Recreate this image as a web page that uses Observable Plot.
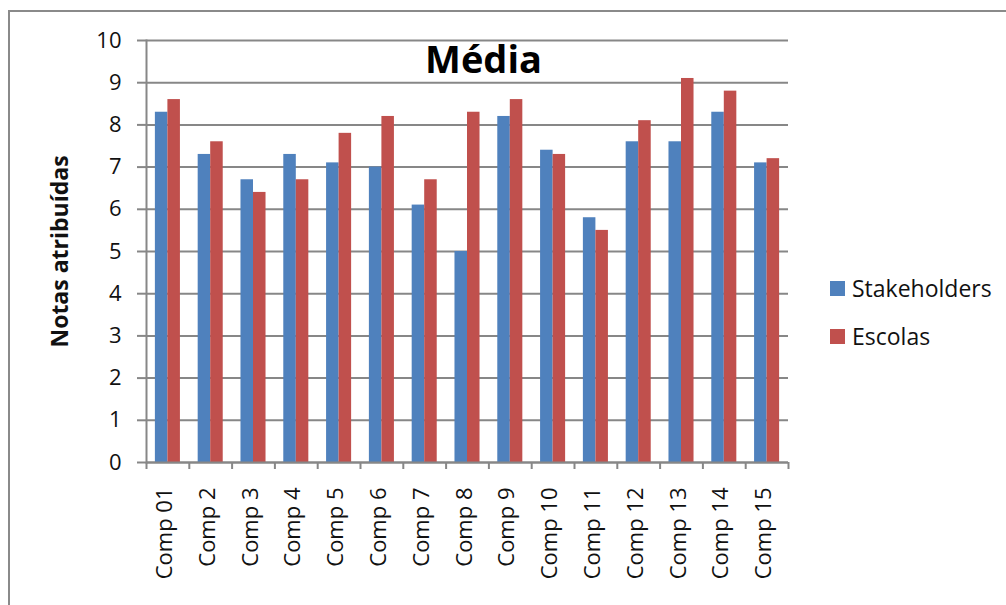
<!DOCTYPE html>
<html>
<head>
<meta charset="utf-8">
<script src="https://cdn.jsdelivr.net/npm/d3@7"></script>
<script src="https://cdn.jsdelivr.net/npm/@observablehq/plot@0.6"></script>
<style>
  body { margin: 0; background: #fff; }
  #wrap { position: relative; width: 1006px; height: 605px; overflow: hidden; font-family: "Open Sans", sans-serif; }
  #border { position: absolute; left: 8px; top: 10px; width: 1100px; height: 700px; border-left: 2px solid #8a8a8a; border-top: 2px solid #8a8a8a; pointer-events: none; }
  #legend { position: absolute; left: 830px; top: 276px; }
  .item { display: flex; align-items: center; height: 24px; margin-bottom: 24px; font-size: 23px; color: #111; }
  .sw { width: 15px; height: 15px; margin-right: 7px; }
</style>
</head>
<body>
<div id="wrap"><div id="chart"></div><div id="border"></div><div id="legend"></div></div>
<script>
const categories = ["Comp 01","Comp 2","Comp 3","Comp 4","Comp 5","Comp 6","Comp 7","Comp 8","Comp 9","Comp 10","Comp 11","Comp 12","Comp 13","Comp 14","Comp 15"];
const series = ["Stakeholders","Escolas"];
const colors = ["#4F81BD","#C0504D"];
const stakeholders = [8.3,7.3,6.7,7.3,7.1,7.0,6.1,5.0,8.2,7.4,5.8,7.6,7.6,8.3,7.1];
const escolas = [8.6,7.6,6.4,6.7,7.8,8.2,6.7,8.3,8.6,7.3,5.5,8.1,9.1,8.8,7.2];
const yTicks = [0,1,2,3,4,5,6,7,8,9,10];
const title = "Média";
const yLabel = "Notas atribuídas";

const W = 1006, H = 605, mL = 146, mR = 218, mT = 40, mB = 143;
const step = (W - mL - mR) / categories.length;
const half = step * 0.585 / 2;

const dataS = categories.map((c, i) => ({cat: c, v: stakeholders[i]}));
const dataE = categories.map((c, i) => ({cat: c, v: escolas[i]}));
const grid = "#878787";

const chart = Plot.plot({
  width: W, height: H,
  marginLeft: mL, marginRight: mR, marginTop: mT, marginBottom: mB,
  style: {fontFamily: "'Open Sans', sans-serif", fontSize: "22px", color: "#111", background: "transparent"},
  x: {domain: categories, paddingInner: 0.415, paddingOuter: 0.2075, round: false, axis: null},
  y: {domain: [0, 10], axis: null},
  marks: [
    Plot.ruleY(yTicks, {y: d => d, stroke: grid, strokeWidth: 2}),
    Plot.barY(dataS, {x: "cat", y: "v", fill: colors[0], insetRight: half}),
    Plot.barY(dataE, {x: "cat", y: "v", fill: colors[1], insetLeft: half}),
    Plot.frame({anchor: "left", stroke: grid, strokeWidth: 2}),
    Plot.ruleY([0], {stroke: grid, strokeWidth: 2}),
    Plot.ruleX(categories, {x: d => d, y1: 0, y2: 0, insetBottom: -7, dx: -step / 2, stroke: grid, strokeWidth: 2}),
    Plot.ruleX(categories.slice(-1), {x: d => d, y1: 0, y2: 0, insetBottom: -7, dx: step / 2, stroke: grid, strokeWidth: 2}),
    Plot.axisY(yTicks, {tickSize: 9, tickPadding: 16, stroke: grid, strokeWidth: 2, fontSize: 22, fill: "#111", label: null}),
    Plot.axisX({tickRotate: -90, tickSize: 0, tickPadding: 25, fontSize: 22, fill: "#111", label: null, dx: -3}),
    Plot.text([yLabel], {frameAnchor: "left", textAnchor: "middle", rotate: -90, dx: -86, fontSize: 23, fontWeight: "bold", fill: "#111"}),
    Plot.text([title], {frameAnchor: "top", dx: 16, dy: 6, fontSize: 38, fontWeight: "bold", fill: "#000"})
  ]
});
document.getElementById("chart").appendChild(chart);

const legend = d3.select("#legend");
series.forEach((s, i) => {
  const it = legend.append("div").attr("class", "item");
  it.append("div").attr("class", "sw").style("background", colors[i]);
  it.append("span").text(s);
});
</script>
</body>
</html>
